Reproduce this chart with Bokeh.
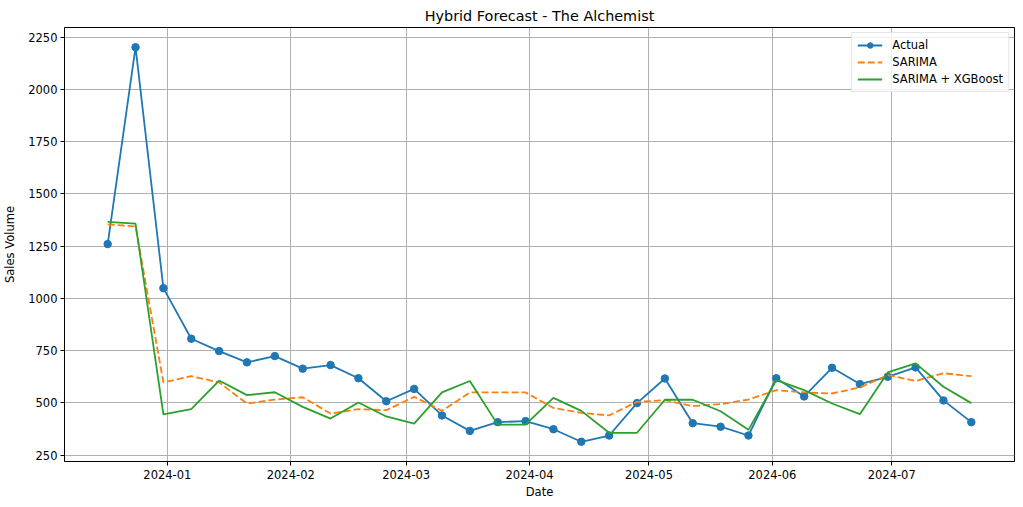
import pandas as pd
from bokeh.plotting import figure
from bokeh.models import Range1d, FixedTicker, DatetimeTickFormatter
from bokeh.embed import file_html
from bokeh.resources import INLINE

dates = ["2023-12-17", "2023-12-24", "2023-12-31", "2024-01-07", "2024-01-14",
         "2024-01-21", "2024-01-28", "2024-02-04", "2024-02-11", "2024-02-18",
         "2024-02-25", "2024-03-03", "2024-03-10", "2024-03-17", "2024-03-24",
         "2024-03-31", "2024-04-07", "2024-04-14", "2024-04-21", "2024-04-28",
         "2024-05-05", "2024-05-12", "2024-05-19", "2024-05-26", "2024-06-02",
         "2024-06-09", "2024-06-16", "2024-06-23", "2024-06-30", "2024-07-07",
         "2024-07-14", "2024-07-21"]

actual = [1260, 2202, 1049, 807, 748, 694, 724, 664, 681, 618, 508, 567, 440, 366,
          408, 413, 374, 314, 344, 499, 617, 403, 386, 344, 618, 531, 668, 590,
          625, 670, 512, 408]

sarima = [1354, 1344, 598, 628, 598, 497, 516, 527, 449, 470, 465, 529, 462, 550,
          550, 550, 476, 452, 440, 505, 513, 484, 494, 516, 561, 550, 545, 574,
          633, 605, 642, 628]

hybrid = [1366, 1358, 445, 470, 607, 537, 551, 481, 425, 502, 435, 401, 550, 605,
          396, 396, 524, 462, 357, 357, 515, 515, 460, 371, 609, 561, 497, 446,
          646, 689, 577, 499]

x_tick_dates = ["2024-01-01", "2024-02-01", "2024-03-01", "2024-04-01",
                "2024-05-01", "2024-06-01", "2024-07-01"]
y_ticks = [250, 500, 750, 1000, 1250, 1500, 1750, 2000, 2250]

FONT = "DejaVu Sans"
BLUE = "#1f77b4"
ORANGE = "#ff7f0e"
GREEN = "#2ca02c"

x = pd.to_datetime(dates)
span = x[-1] - x[0]
x_start = x[0] - 0.05 * span
x_end = x[-1] + 0.05 * span
all_vals = actual + sarima + hybrid
vmin, vmax = min(all_vals), max(all_vals)
pad = 0.05 * (vmax - vmin)

p = figure(width=1015, height=501, output_backend="svg", toolbar_location=None,
           x_axis_type="datetime",
           x_range=Range1d(x_start, x_end),
           y_range=Range1d(vmin - pad, vmax + pad),
           min_border_left=63, min_border_right=1, min_border_top=27,
           min_border_bottom=37,
           title="Hybrid Forecast - The Alchemist")

p.title.align = "center"
p.title.text_font = FONT
p.title.text_font_size = "14.4px"
p.title.text_font_style = "normal"
p.title.text_color = "black"
p.title.standoff = 8

p.outline_line_color = "black"
p.outline_line_width = 1
p.outline_line_alpha = 1

p.line(x, actual, line_color=BLUE, line_width=1.8, legend_label="Actual")
p.scatter(x, actual, size=7.5, fill_color=BLUE, line_color=BLUE, legend_label="Actual")
p.line(x, sarima, line_color=ORANGE, line_width=1.8, line_dash="7 3", legend_label="SARIMA")
p.line(x, hybrid, line_color=GREEN, line_width=1.8, legend_label="SARIMA + XGBoost")

tick_ms = [pd.Timestamp(d).value // 10**6 for d in x_tick_dates]
p.xaxis.ticker = FixedTicker(ticks=tick_ms)
fmt = "%Y-%m"
p.xaxis.formatter = DatetimeTickFormatter(years=fmt, months=fmt, days=fmt, hours=fmt,
                                          minutes=fmt, seconds=fmt, milliseconds=fmt,
                                          minsec=fmt, hourmin=fmt)
p.yaxis.ticker = FixedTicker(ticks=y_ticks)

for ax in (p.xaxis, p.yaxis):
    ax.axis_line_color = "black"
    ax.major_tick_line_color = "black"
    ax.major_tick_out = 4
    ax.major_tick_in = 0
    ax.minor_tick_line_color = None
    ax.major_label_text_font = FONT
    ax.major_label_text_font_size = "11.5px"
    ax.major_label_text_color = "black"
    ax.major_label_standoff = 3
    ax.axis_label_text_font = FONT
    ax.axis_label_text_font_size = "11.5px"
    ax.axis_label_text_font_style = "normal"
    ax.axis_label_text_color = "black"
    ax.axis_label_standoff = 4

p.xaxis.major_label_standoff = 4
p.xaxis.axis_label_standoff = 3
p.yaxis.axis_label_standoff = 8

p.xaxis.axis_label = "Date"
p.yaxis.axis_label = "Sales Volume"

for g in (p.xgrid, p.ygrid):
    g.grid_line_color = "#b0b0b0"
    g.grid_line_width = 1
    g.grid_line_alpha = 1

lg = p.legend[0]
lg.location = "top_right"
lg.margin = 5
lg.padding = 5
lg.spacing = 3
lg.glyph_width = 25
lg.glyph_height = 14
lg.label_height = 14
lg.label_standoff = 10
lg.label_text_font = FONT
lg.label_text_font_size = "11.5px"
lg.label_text_color = "black"
lg.border_line_color = "#cccccc"
lg.border_line_width = 1
lg.background_fill_alpha = 0.8

open("out.html", "w").write(file_html(p, INLINE))
